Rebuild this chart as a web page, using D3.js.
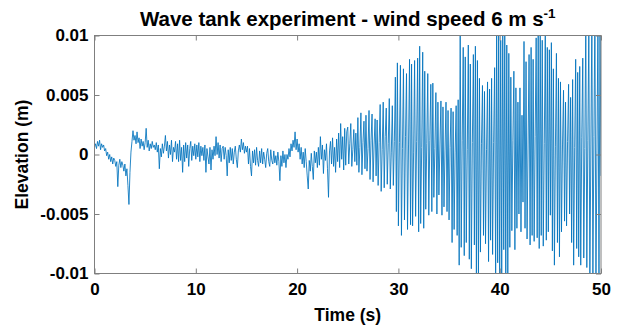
<!DOCTYPE html>
<html>
<head>
<meta charset="utf-8">
<script src="https://cdn.jsdelivr.net/npm/d3@7"></script>
<style>
  body { margin: 0; background: #fff; }
  text { font-family: "Liberation Sans", Arial, Helvetica, sans-serif; font-weight: bold; fill: #000; }
</style>
</head>
<body>
<div id="chart"></div>
<script>
// one sample every 0.1 s, elevation in mm
var sampleInterval = 0.1;
var elevationMm = [
  0.6, 0.9, 0.5, 1.1, 0.7, 1.2, 0.4, 0.9, 0.6, 0.8,
  0.3, 0.5, -0.1, 0.2, -0.4, 0.0, -0.6, -0.2, -0.8, -0.3,
  -0.5, -1.0, -0.6, -2.7, -0.9, -0.4, -1.1, -0.6, -0.9, -1.4,
  -0.8, -1.8, -1.2, -2.6, -4.2, -1.5, 0.2, 1.1, 2.0, 1.2,
  1.6, 0.9, 1.9, 1.0, 1.4, 0.5, 1.3, 0.7, 1.1, 0.4,
  1.0, 2.2, 0.6, 1.2, 0.3, 0.9, 0.5, 1.1, 0.6, 0.8,
  0.4, 1.0, 0.2, 0.8, -1.2, 0.5, -0.2, 0.9, 0.1, 0.7,
  1.6, 0.3, 1.1, -0.3, 0.8, 0.0, 1.2, -0.6, 0.6, 0.2,
  1.1, -0.4, 0.9, -0.6, 1.2, -0.5, 0.6, -1.5, 0.8, -0.6,
  1.0, -0.3, 0.8, -1.0, 0.5, 1.1, -0.5, 0.7, -0.1, 0.9,
  -0.4, 0.8, -0.2, 1.0, -0.6, 0.7, -0.1, 0.6, -0.5, 0.8,
  -1.5, 0.5, -0.2, -0.8, 0.6, -1.3, 0.4, -0.4, 0.7, -0.1,
  1.5, 0.0, 1.0, -0.3, 0.8, -0.6, 0.5, 0.7, -0.4, 0.6,
  -0.1, -1.8, 0.4, -0.7, 0.6, -0.5, 0.5, -0.8, 0.2, 0.7,
  -0.4, -1.1, 0.3, 0.8, 0.2, 1.3, 0.4, 1.0, 0.1, 0.7,
  0.2, 0.7, -0.8, 0.5, -1.0, -1.8, 0.3, -0.7, 0.4, -0.9,
  0.6, -0.5, -1.0, 0.3, -0.7, 0.5, -0.8, 0.2, -0.4, -1.1,
  0.1, 0.5, -0.6, -1.0, 0.4, -0.5, -0.8, 0.3, -0.7, -0.1,
  -0.9, 0.2, -0.6, -2.2, -0.1, -1.0, 0.3, -0.7, 0.0, -1.1,
  0.0, -0.4, 0.5, -0.2, 0.9, 0.3, 1.2, 0.6, 1.9, 0.4,
  1.3, 0.2, 0.9, -0.4, 0.6, -0.8, 0.2, -1.1, 0.5, -0.6,
  -1.8, -2.9, -0.5, -1.4, 0.1, -1.0, -2.1, 0.3, -0.7, 0.2,
  -1.1, 0.6, -0.9, 1.5, -0.4, 0.8, -1.6, 0.4, -0.5, 0.9,
  -1.2, -3.6, 0.3, 1.1, -0.8, 1.4, -1.0, 0.6, -1.5, 1.3,
  -0.6, 1.8, -1.1, 2.6, -0.4, 1.5, -1.3, 2.2, -0.9, 1.9,
  2.3, -0.8, 0.9, 2.6, -1.0, 0.4, 2.1, -0.6, 1.8, -0.9,
  3.1, -1.5, 0.6, 3.5, -1.7, 1.0, 2.8, -1.2, 3.3, -1.4,
  0.5, 3.7, -2.1, 1.2, 3.4, -2.3, 0.8, 3.0, -1.8, 2.9,
  -2.6, 1.0, 4.2, -3.1, 0.4, 4.4, -2.8, 1.5, 3.9, -2.5,
  0.9, 4.7, -2.9, 0.2, 4.1, -2.6, 1.1, 6.5, -4.8, 7.7,
  -6.0, 1.0, 7.5, -6.8, 0.5, 7.2, -5.5, 1.5, 6.8, -6.3,
  0.8, 8.0, -5.9, 7.6, -6.0, 0.2, 7.9, -5.2, 1.1, 8.1,
  -6.5, 9.1, -5.8, 0.6, 8.6, -6.2, 7.0, -4.6, 0.9, 6.8,
  -5.1, 1.2, 5.9, -4.8, 6.0, -3.6, 0.5, 5.2, -5.0, 4.4,
  -3.4, 0.8, 4.5, -5.1, 4.0, -4.4, 0.3, 4.4, -4.8, 3.7,
  -5.5, 0.6, 3.9, -7.4, 3.6, -6.3, 0.2, 4.1, -6.8, 4.6,
  -9.3, 10.5, -7.8, 1.2, 9.0, -8.5, 8.2, -7.4, 0.4, 9.2,
  -8.8, 7.6, -9.6, 1.0, 8.4, -7.6, 9.1, -10.0, 7.9, -10.6,
  6.4, -8.2, 0.9, 5.8, -6.8, 5.3, -7.5, 0.4, 6.1, -9.0,
  5.5, -7.2, 6.4, -8.4, 1.0, 7.3, -11.0, 10.8, -9.1, 11.2,
  -11.0, 9.6, -10.5, 11.5, -8.0, 10.9, -11.3, 9.2, -10.8, 8.5,
  -7.8, 6.5, -6.4, 1.2, 7.0, -8.0, 5.6, -6.2, 4.4, -5.0,
  5.6, -6.5, 3.3, -4.0, 9.5, -6.2, 7.8, -7.1, 0.8, 8.4,
  -7.6, 9.0, -6.8, 8.0, -7.3, 1.5, 9.8, -7.0, 10.3, -7.9,
  10.5, -6.8, 9.6, -7.7, 0.9, 10.2, -7.2, 9.0, -6.5, 8.8,
  -5.1, 9.4, -8.1, 7.2, -9.3, 0.7, 8.5, -7.4, 6.4, -8.6,
  6.1, -6.5, 0.8, 5.4, -5.6, 4.4, -6.0, 1.1, 5.9, -5.0,
  4.8, -7.4, 6.3, -9.3, 0.6, 8.0, -7.9, 6.9, -8.6, 7.4,
  -9.3, 1.4, 8.1, -8.7, 0.5, 11.0, -9.5, 1.2, 10.6, -11.2,
  0.8, 11.4, -10.8, 1.5, 12.0, -11.5, 0.3, 11.6, -12.0, 11.8,
  -1.8
];

var xTicks = [0, 10, 20, 30, 40, 50];
var yTicks = [-0.01, -0.005, 0, 0.005, 0.01];
var yTickLabels = ["-0.01", "-0.005", "0", "0.005", "0.01"];

var titleText = "Wave tank experiment - wind speed 6 m s";
var titleSup = "-1";
var xLabel = "Time (s)";
var yLabel = "Elevation (m)";

var w = 620,
    h = 326;
var plotLeft = 94.5, plotRight = 601, plotTop = 35.5, plotBottom = 273.5;

var svg = d3.select("#chart")
    .append("svg")
    .attr("width", w)
    .attr("height", h)
    .style("display", "block");

var x = d3.scaleLinear().domain([0, 50]).range([plotLeft, plotRight]);
var y = d3.scaleLinear().domain([-0.01, 0.01]).range([plotBottom, plotTop]);

svg.append("clipPath")
    .attr("id", "plot-clip")
  .append("rect")
    .attr("x", plotLeft)
    .attr("y", plotTop)
    .attr("width", plotRight - plotLeft)
    .attr("height", plotBottom - plotTop);

var line = d3.line()
    .x(function(d, i) { return x(i * sampleInterval); })
    .y(function(d) { return y(d / 1000); });

svg.append("path")
    .datum(elevationMm)
    .attr("clip-path", "url(#plot-clip)")
    .attr("fill", "none")
    .attr("stroke", "#0072BD")
    .attr("stroke-width", 0.85)
    .attr("d", line);

var axisColor = "#7f7f7f";

function styleAxis(g) {
  g.select(".domain").remove();
  g.selectAll(".tick line").attr("stroke", axisColor);
  g.selectAll(".tick text")
      .attr("font-size", 17)
      .attr("font-family", "'Liberation Sans', Arial, sans-serif")
      .attr("font-weight", "bold")
      .attr("fill", "#000");
}

svg.append("g")
    .attr("transform", "translate(0," + plotBottom + ")")
    .call(d3.axisBottom(x).tickValues(xTicks).tickSizeInner(-5).tickSizeOuter(0).tickPadding(9))
    .call(styleAxis);

svg.append("g")
    .attr("transform", "translate(0," + plotTop + ")")
    .call(d3.axisTop(x).tickValues(xTicks).tickSizeInner(-5).tickSizeOuter(0).tickFormat(""))
    .call(styleAxis);

svg.append("g")
    .attr("transform", "translate(" + plotLeft + ",0)")
    .call(d3.axisLeft(y).tickValues(yTicks).tickSizeInner(-5).tickSizeOuter(0).tickPadding(6)
      .tickFormat(function(d, i) { return yTickLabels[i]; }))
    .call(styleAxis);

svg.append("g")
    .attr("transform", "translate(" + plotRight + ",0)")
    .call(d3.axisRight(y).tickValues(yTicks).tickSizeInner(-5).tickSizeOuter(0).tickFormat(""))
    .call(styleAxis);

// box
svg.append("rect")
    .attr("x", plotLeft)
    .attr("y", plotTop)
    .attr("width", plotRight - plotLeft)
    .attr("height", plotBottom - plotTop)
    .attr("fill", "none")
    .attr("stroke", axisColor)
    .attr("stroke-width", 1);

var title = svg.append("text")
    .attr("x", (plotLeft + plotRight) / 2)
    .attr("y", 26)
    .attr("text-anchor", "middle")
    .attr("font-size", 20.5);
title.append("tspan").text(titleText);
title.append("tspan")
    .attr("font-size", 13.5)
    .attr("dy", -8)
    .text(titleSup);

svg.append("text")
    .attr("x", (plotLeft + plotRight) / 2)
    .attr("y", 321)
    .attr("text-anchor", "middle")
    .attr("font-size", 17.5)
    .text(xLabel);

svg.append("text")
    .attr("transform", "translate(28," + ((plotTop + plotBottom) / 2) + ") rotate(-90)")
    .attr("text-anchor", "middle")
    .attr("font-size", 17.5)
    .text(yLabel);
</script>
</body>
</html>
